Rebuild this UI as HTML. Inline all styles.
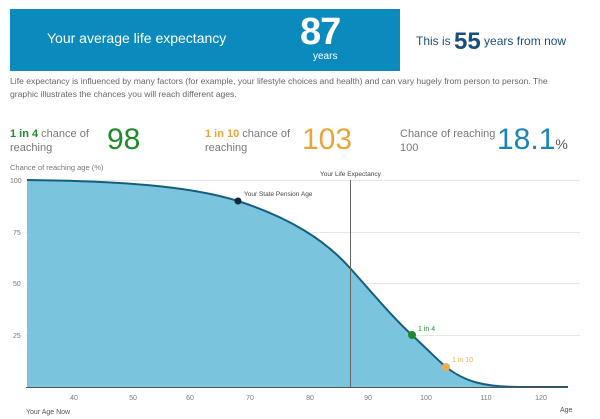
<!DOCTYPE html><html><head><style>
body{margin:0;width:600px;height:419px;background:#fff;font-family:"Liberation Sans",sans-serif;position:relative;overflow:hidden}
.a{position:absolute;white-space:nowrap}
</style></head><body>
<div class="a" style="left:10px;top:9px;width:390px;height:62px;background:#0b8bbd"></div>
<div class="a" style="left:47px;top:30px;color:#fff;font-size:14px">Your average life expectancy</div>
<div class="a" style="left:300px;top:11px;color:#fff;font-size:38px;font-weight:bold;letter-spacing:-1px">87</div>
<div class="a" style="left:313px;top:51px;color:#fff;font-size:10px">years</div>
<div class="a" style="left:416px;top:28px;color:#1a4f78;font-size:12px">This is <span style="font-size:24px;font-weight:bold;vertical-align:-4px">55</span> years from now</div>
<div class="a" style="left:10px;top:75px;color:#666;font-size:8.6px;line-height:13px">Life expectancy is influenced by many factors (for example, your lifestyle choices and health) and can vary hugely from person to person. The<br>graphic illustrates the chances you will reach different ages.</div>
<div class="a" style="left:10px;top:127px;color:#777;font-size:11px;line-height:14px"><b style="color:#1e8a2a">1 in 4</b> chance of<br>reaching</div>
<div class="a" style="left:107px;top:123px;color:#1e8a2a;font-size:30px">98</div>
<div class="a" style="left:205px;top:127px;color:#777;font-size:11px;line-height:14px"><b style="color:#e9a53a">1 in 10</b> chance of<br>reaching</div>
<div class="a" style="left:302px;top:123px;color:#e9a53a;font-size:30px">103</div>
<div class="a" style="left:400px;top:127px;color:#777;font-size:11px;line-height:14px">Chance of reaching<br>100</div>
<div class="a" style="left:497px;top:123px;color:#1a85b5;font-size:30px">18.1<span style="font-size:14px;color:#555">%</span></div>
<svg class="a" style="left:0;top:0" width="600" height="419" font-family="Liberation Sans,sans-serif">
<text x="10" y="170" font-size="7.5" fill="#777">Chance of reaching age (%)</text>
<g stroke="#e6e6e6" stroke-width="1"><line x1="26" x2="580" y1="180.5" y2="180.5"/><line x1="26" x2="580" y1="232.5" y2="232.5"/><line x1="26" x2="580" y1="283.5" y2="283.5"/><line x1="26" x2="580" y1="335.5" y2="335.5"/></g>
<g font-size="7" fill="#777"><text x="10" y="183">100</text><text x="13" y="235">75</text><text x="13" y="286">50</text><text x="13" y="338">25</text></g>
<path d="M27,180 C120,181 190,186 238,201 C290,218 325,240 350,268 C375,296 395,320 412,335 C430,352 440,362 446,367 C465,382 485,387 520,387 L568,387 L568,387 L27,387Z" fill="#7bc4de"/>
<path d="M27,180 C120,181 190,186 238,201 C290,218 325,240 350,268 C375,296 395,320 412,335 C430,352 440,362 446,367 C465,382 485,387 520,387 L568,387" fill="none" stroke="#145f80" stroke-width="2"/>
<line x1="350.5" x2="350.5" y1="180" y2="387" stroke="#666" stroke-width="1"/>
<text x="320" y="176" font-size="6.5" fill="#444">Your Life Expectancy</text>
<line x1="26" x2="568" y1="387.5" y2="387.5" stroke="#555"/>
<circle cx="238" cy="201" r="3.5" fill="#0d2a3a"/>
<text x="244" y="196" font-size="6.5" fill="#444">Your State Pension Age</text>
<circle cx="412" cy="335" r="4" fill="#1e8a2a"/>
<text x="418" y="331" font-size="7" fill="#1e8a2a">1 in 4</text>
<circle cx="446" cy="367" r="4" fill="#f0ad4e"/>
<text x="452" y="362" font-size="7" fill="#f0ad4e">1 in 10</text>
<g font-size="7" fill="#777" text-anchor="middle"><text x="74" y="400">40</text><text x="133" y="400">50</text><text x="190" y="400">60</text><text x="250" y="400">70</text><text x="310" y="400">80</text><text x="368" y="400">90</text><text x="426" y="400">100</text><text x="486" y="400">110</text><text x="541" y="400">120</text></g>
<text x="26" y="414" font-size="7" fill="#555">Your Age Now</text>
<text x="560" y="412" font-size="7" fill="#555">Age</text>
</svg>
</body></html>
